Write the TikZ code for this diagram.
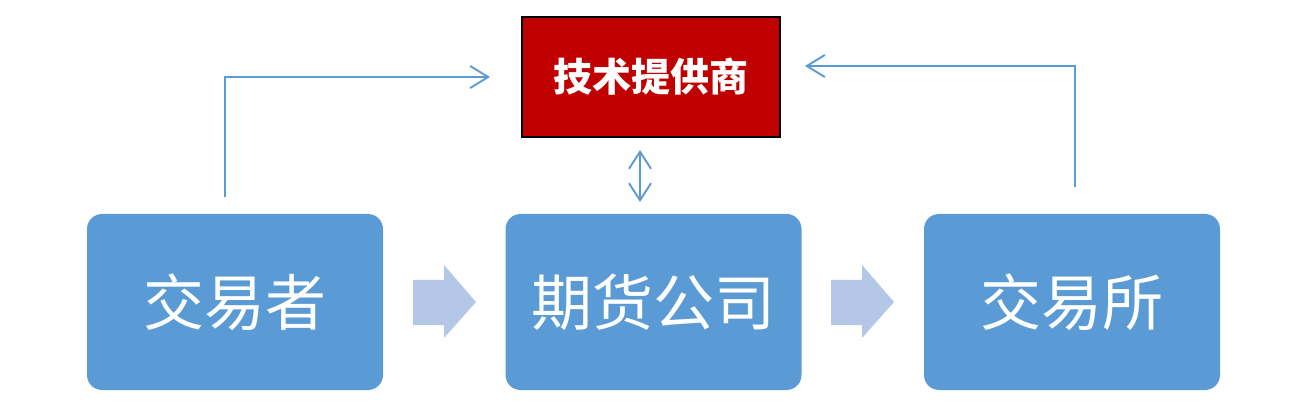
\documentclass[tikz,border=0pt]{standalone}
\usepackage{fontspec}
\newfontfamily\cjk{Noto Sans CJK SC}
\usetikzlibrary{arrows.meta}
\definecolor{boxblue}{HTML}{5B9BD5}
\definecolor{lightblue}{HTML}{B4C7E7}
\definecolor{darkred}{HTML}{C00000}
\definecolor{lineblue}{HTML}{5B9BD5}
\tikzset{
  mainbox/.style={fill=boxblue, draw=none, rounded corners=15pt, minimum width=296pt, minimum height=176pt, inner sep=0pt, text=white, font=\cjk\fontsize{61}{64}\selectfont},
  techbox/.style={fill=darkred, draw=black, line width=1.6pt, minimum width=258pt, minimum height=120pt, inner sep=0pt, text=white, font=\cjk\bfseries\fontsize{39}{42}\selectfont},
  conn/.style={draw=lineblue, line width=1.9pt},
  tip/.style={-{Straight Barb[length=18pt,width=22pt,line width=1.9pt]}},
  dtip/.style={{Straight Barb[length=17pt,width=22pt,line width=1.9pt]}-{Straight Barb[length=17pt,width=22pt,line width=1.9pt]}},
  flow/.style={fill=lightblue, draw=none}
}
\begin{document}
\begin{tikzpicture}[x=1pt,y=-1pt]
\useasboundingbox (0,0) rectangle (1301,403);
\node[techbox] (tech) at (651,77) {技术提供商};
\node[mainbox] (trader) at (235,302) {交易者};
\node[mainbox] (broker) at (653.5,302) {期货公司};
\node[mainbox] (exch) at (1072,302) {交易所};
% block arrows
\fill[flow] (413,280) -- (444,280) -- (444,265) -- (476,302) -- (444,338) -- (444,325) -- (413,325) -- cycle;
\fill[flow] (831,280) -- (862,280) -- (862,265) -- (894,302) -- (862,338) -- (862,325) -- (831,325) -- cycle;
% connectors
\coordinate (a1) at (225,197);
\coordinate (a2) at (490,77);
\draw[conn,tip] (a1) |- (a2);
\coordinate (b1) at (1075,187);
\coordinate (b2) at (805,66);
\draw[conn,tip] (b1) |- (b2);
\coordinate (c1) at (640,150);
\coordinate (c2) at (640,202);
\draw[conn,dtip] (c1) -- (c2);
\end{tikzpicture}
\end{document}
